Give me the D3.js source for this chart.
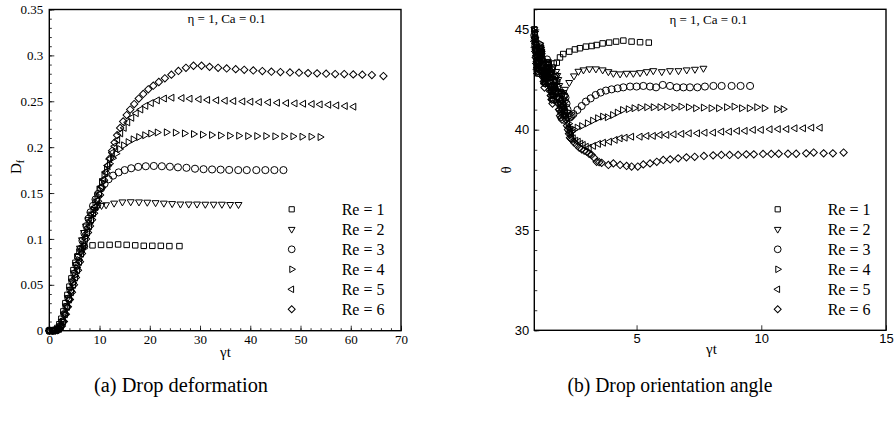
<!DOCTYPE html>
<html>
<head>
<meta charset="utf-8">
<script src="https://cdn.jsdelivr.net/npm/d3@7"></script>
<style>
  body { margin: 0; background: #fff; }
  svg { display: block; }
</style>
</head>
<body>
<svg id="fig" width="895" height="423"></svg>
<script>
// ---------- Drop deformation D_f versus strain γt ----------
const deformRe1 = [[0,0],[0.5,0],[1.1,0.0005],[1.6,0.003],[2.0,0.007],[2.4,0.013],[2.8,0.021],[3.2,0.03],[3.6,0.039],[4.0,0.048],[4.4,0.057],[4.8,0.066],[5.2,0.074],[5.6,0.081],[6.0,0.086],[6.5,0.09],[7.0,0.092],[8.6,0.093],[10.3,0.0935],[12.0,0.0935],[13.7,0.094],[15.4,0.0935],[17.1,0.093],[18.8,0.0925],[20.5,0.0925],[22.2,0.0925],[23.9,0.0922],[25.9,0.0922]];
const deformRe2 = [[0,0],[0.6,0],[1.2,0.0005],[1.7,0.002],[2.1,0.005],[2.5,0.01],[2.9,0.018],[3.3,0.027],[3.7,0.036],[4.1,0.045],[4.5,0.054],[4.9,0.063],[5.3,0.072],[5.7,0.081],[6.1,0.09],[6.5,0.099],[6.9,0.107],[7.3,0.114],[7.8,0.121],[8.3,0.127],[8.9,0.132],[9.6,0.135],[10.4,0.1365],[11.3,0.1372],[12.9,0.139],[14.55,0.1403],[16.2,0.1405],[17.85,0.1403],[19.5,0.14],[21.15,0.1395],[22.8,0.139],[24.45,0.1385],[26.1,0.138],[27.75,0.138],[29.4,0.138],[31.05,0.1378],[32.7,0.1378],[34.35,0.1378],[36.0,0.1375],[37.65,0.1375]];
const deformRe3 = [[0,0],[0.7,0],[1.3,0.0005],[1.8,0.002],[2.2,0.005],[2.6,0.01],[3.0,0.018],[3.4,0.026],[3.8,0.035],[4.2,0.044],[4.6,0.053],[5.0,0.062],[5.4,0.071],[5.8,0.08],[6.2,0.089],[6.6,0.098],[7.0,0.106],[7.4,0.114],[7.8,0.122],[8.2,0.129],[8.7,0.136],[9.2,0.143],[9.7,0.149],[10.3,0.155],[11.0,0.16],[11.8,0.165],[12.7,0.169],[13.8,0.1725],[15.0,0.175],[16.3,0.177],[17.7,0.1785],[19.2,0.1792],[20.8,0.1795],[22.4,0.1792],[24.0,0.1787],[25.6,0.178],[27.3,0.1775],[29.0,0.1765],[30.7,0.176],[32.4,0.1757],[34.1,0.1755],[35.8,0.1752],[37.6,0.175],[39.3,0.175],[41.2,0.175],[43.0,0.175],[44.8,0.175],[46.6,0.175]];
const deformRe4 = [[0,0],[0.7,0],[1.4,0.0005],[1.9,0.002],[2.3,0.005],[2.7,0.01],[3.1,0.018],[3.5,0.026],[3.9,0.034],[4.3,0.043],[4.7,0.052],[5.1,0.06],[5.5,0.069],[5.9,0.077],[6.3,0.086],[6.7,0.094],[7.1,0.102],[7.5,0.11],[7.9,0.117],[8.3,0.125],[8.7,0.132],[9.1,0.14],[9.5,0.147],[9.9,0.154],[10.4,0.162],[10.9,0.169],[11.4,0.176],[12.0,0.182],[12.6,0.188],[13.3,0.193],[14.0,0.198],[14.8,0.202],[15.7,0.2055],[16.7,0.2085],[17.8,0.211],[19.0,0.213],[20.2,0.2148],[21.5,0.216],[23.3,0.2162],[25.1,0.2158],[26.9,0.215],[28.7,0.2143],[30.5,0.2136],[32.3,0.2132],[34.1,0.2128],[35.9,0.2125],[37.7,0.2125],[39.5,0.2121],[41.3,0.2121],[43.1,0.2121],[44.9,0.2118],[46.7,0.2118],[48.5,0.2118],[50.3,0.2114],[52.1,0.2114],[53.9,0.211]];
const deformRe5 = [[0,0],[0.8,0],[1.5,0.0005],[2.0,0.002],[2.4,0.005],[2.8,0.01],[3.2,0.018],[3.6,0.026],[4.0,0.034],[4.4,0.042],[4.8,0.05],[5.2,0.058],[5.6,0.066],[6.0,0.075],[6.4,0.084],[6.8,0.092],[7.2,0.1],[7.6,0.107],[8.0,0.114],[8.4,0.121],[8.8,0.128],[9.2,0.135],[9.6,0.142],[10.0,0.149],[10.4,0.157],[10.8,0.165],[11.2,0.173],[11.6,0.18],[12.0,0.187],[12.5,0.194],[13.0,0.201],[13.6,0.208],[14.2,0.215],[14.9,0.221],[15.6,0.227],[16.4,0.232],[17.3,0.237],[18.2,0.241],[19.2,0.245],[20.3,0.248],[21.5,0.251],[22.9,0.253],[24.4,0.2539],[26.4,0.2535],[28.0,0.2528],[29.8,0.2522],[31.5,0.2515],[33.3,0.2511],[35.0,0.2506],[36.7,0.2502],[38.5,0.2498],[40.1,0.2495],[41.8,0.2491],[43.6,0.2488],[45.4,0.2484],[47.2,0.248],[48.9,0.2477],[50.6,0.2473],[52.3,0.247],[53.9,0.2466],[55.6,0.2462],[57.2,0.2455],[58.9,0.2448],[60.6,0.2441]];
const deformRe6 = [[0,0],[0.9,0],[1.6,0.0005],[2.1,0.002],[2.5,0.005],[2.9,0.01],[3.3,0.018],[3.7,0.026],[4.1,0.034],[4.5,0.042],[4.9,0.05],[5.3,0.058],[5.7,0.066],[6.1,0.075],[6.5,0.084],[6.9,0.092],[7.3,0.1],[7.7,0.107],[8.1,0.114],[8.5,0.121],[8.9,0.128],[9.3,0.135],[9.7,0.141],[10.1,0.148],[10.5,0.156],[10.9,0.164],[11.3,0.172],[11.7,0.18],[12.1,0.188],[12.5,0.196],[13.0,0.205],[13.5,0.213],[14.1,0.221],[14.7,0.228],[15.4,0.235],[16.1,0.241],[16.9,0.247],[17.8,0.253],[18.7,0.258],[19.7,0.263],[20.7,0.267],[21.8,0.271],[23.0,0.275],[24.3,0.279],[25.7,0.283],[27.2,0.2865],[28.7,0.2887],[30.3,0.2887],[31.9,0.2875],[33.6,0.2865],[35.3,0.2858],[37.1,0.285],[38.8,0.2843],[40.6,0.2836],[42.4,0.2829],[44.2,0.2822],[46.0,0.2818],[47.9,0.2814],[49.7,0.2811],[51.5,0.2807],[53.3,0.2804],[55.1,0.28],[56.9,0.2797],[58.7,0.2797],[60.5,0.2793],[62.3,0.279],[64.2,0.2786],[66.5,0.2775]];

// ---------- Drop orientation angle θ versus strain γt ----------
const angleRe1 = [[0.9,45.0],[0.92,44.8],[0.94,44.5],[0.96,44.2],[0.98,43.9],[1.0,43.6],[1.02,43.3],[1.04,43.1],[1.06,42.8],[1.08,42.9],[1.1,43.1],[1.12,43.4],[1.14,43.7],[1.16,44.0],[1.18,43.9],[1.2,43.8],[1.22,43.5],[1.25,43.2],[1.28,42.9],[1.3,42.6],[1.33,42.3],[1.35,42.4],[1.38,42.6],[1.4,42.9],[1.43,43.1],[1.45,43.3],[1.48,43.2],[1.5,43.0],[1.53,42.9],[1.55,42.8],[1.58,42.8],[1.6,42.98],[1.64,43.1],[1.68,43.3],[1.8,43.34],[1.93,43.6],[2.06,43.77],[2.3,43.89],[2.53,44.0],[2.73,44.06],[2.97,44.14],[3.2,44.17],[3.4,44.22],[3.64,44.3],[3.9,44.34],[4.18,44.39],[4.47,44.44],[4.8,44.39],[5.14,44.36],[5.49,44.34]];
const angleRe2 = [[0.9,45.0],[0.92,44.8],[0.94,44.5],[0.96,44.3],[0.98,44.0],[1.0,43.7],[1.02,43.4],[1.04,43.2],[1.06,43.0],[1.08,43.2],[1.1,43.5],[1.13,43.8],[1.15,44.1],[1.18,43.9],[1.2,43.7],[1.23,43.3],[1.26,43.0],[1.29,42.7],[1.32,42.5],[1.35,42.6],[1.38,42.8],[1.41,43.1],[1.44,43.4],[1.47,43.3],[1.5,43.1],[1.54,42.8],[1.57,42.5],[1.6,42.2],[1.64,42.0],[1.68,42.2],[1.71,42.4],[1.75,42.7],[1.78,42.9],[1.82,42.7],[1.86,42.5],[1.9,42.2],[1.94,41.9],[1.98,41.8],[2.02,41.7],[2.07,41.85],[2.13,42.01],[2.3,42.35],[2.49,42.68],[2.67,42.91],[2.87,42.98],[3.11,43.03],[3.37,43.03],[3.64,42.98],[3.87,42.89],[4.07,42.81],[4.34,42.78],[4.6,42.81],[4.87,42.81],[5.14,42.84],[5.41,42.89],[5.67,42.94],[6.01,42.89],[6.34,42.94],[6.68,42.94],[7.01,42.98],[7.34,43.01],[7.68,43.06]];
const angleRe3 = [[0.9,44.7],[0.92,44.5],[0.94,44.2],[0.96,43.9],[0.98,43.6],[1.0,43.3],[1.02,43.1],[1.05,43.3],[1.07,43.6],[1.1,43.9],[1.12,44.2],[1.15,44.1],[1.17,43.9],[1.2,43.5],[1.23,43.2],[1.26,42.9],[1.29,42.6],[1.32,42.7],[1.35,42.9],[1.38,43.2],[1.41,43.5],[1.44,43.3],[1.47,43.0],[1.5,42.6],[1.54,42.3],[1.57,42.1],[1.61,41.9],[1.64,42.1],[1.68,42.4],[1.71,42.6],[1.75,42.7],[1.79,42.4],[1.83,42.1],[1.87,41.8],[1.91,41.5],[1.95,41.4],[1.99,41.3],[2.03,41.5],[2.07,41.7],[2.11,41.7],[2.15,41.6],[2.19,41.3],[2.23,41.0],[2.28,40.8],[2.32,40.6],[2.36,40.65],[2.4,40.7],[2.47,40.78],[2.63,40.98],[2.8,41.18],[2.97,41.4],[3.16,41.56],[3.36,41.73],[3.56,41.85],[3.77,41.95],[4.0,42.01],[4.24,42.06],[4.47,42.11],[4.74,42.15],[5.0,42.15],[5.27,42.18],[5.54,42.15],[5.78,42.11],[6.05,42.23],[6.34,42.18],[6.61,42.11],[6.88,42.11],[7.14,42.11],[7.44,42.11],[7.74,42.15],[8.08,42.18],[8.41,42.18],[8.81,42.18],[9.17,42.18],[9.55,42.18]];
const angleRe4 = [[0.91,44.9],[0.93,44.6],[0.95,44.3],[0.97,44.0],[0.99,43.7],[1.01,43.4],[1.03,43.2],[1.05,43.4],[1.08,43.7],[1.1,44.0],[1.13,44.3],[1.15,44.1],[1.18,43.9],[1.21,43.5],[1.24,43.1],[1.27,42.8],[1.3,42.5],[1.33,42.6],[1.36,42.8],[1.39,43.0],[1.42,43.3],[1.45,43.1],[1.48,42.8],[1.51,42.4],[1.55,42.1],[1.58,41.9],[1.62,41.7],[1.65,41.9],[1.69,42.2],[1.72,42.4],[1.76,42.5],[1.8,42.2],[1.84,41.9],[1.88,41.6],[1.92,41.3],[1.96,41.2],[2.0,41.1],[2.04,41.3],[2.08,41.5],[2.12,41.4],[2.16,41.2],[2.2,40.9],[2.24,40.6],[2.28,40.3],[2.32,40.1],[2.36,40.0],[2.4,39.9],[2.5,40.0],[2.62,40.1],[2.8,40.18],[3.03,40.32],[3.24,40.45],[3.44,40.57],[3.64,40.65],[3.83,40.62],[4.04,40.73],[4.23,40.85],[4.44,40.98],[4.67,41.02],[4.9,41.07],[5.14,41.1],[5.41,41.12],[5.67,41.12],[5.94,41.12],[6.21,41.15],[6.5,41.1],[6.78,41.15],[7.08,41.12],[7.37,41.07],[7.68,41.1],[7.99,41.07],[8.29,41.07],[8.61,41.12],[8.91,41.15],[9.21,41.07],[9.52,41.07],[9.82,41.12],[10.12,41.07],[10.62,41.02],[10.88,41.02]];
const angleRe5 = [[0.9,44.4],[0.92,44.1],[0.94,43.9],[0.96,43.6],[0.98,43.3],[1.0,43.0],[1.02,42.8],[1.05,43.0],[1.07,43.3],[1.1,43.6],[1.12,43.9],[1.15,43.8],[1.17,43.6],[1.2,43.2],[1.23,42.9],[1.26,42.6],[1.29,42.3],[1.32,42.4],[1.35,42.6],[1.38,42.9],[1.41,43.1],[1.44,42.9],[1.47,42.6],[1.5,42.2],[1.54,41.9],[1.57,41.7],[1.61,41.5],[1.64,41.7],[1.68,41.9],[1.71,42.1],[1.75,42.2],[1.79,41.9],[1.83,41.6],[1.87,41.3],[1.91,41.0],[1.95,40.9],[1.99,40.8],[2.03,41.0],[2.07,41.2],[2.11,41.1],[2.15,40.9],[2.19,40.6],[2.23,40.3],[2.27,40.1],[2.31,39.9],[2.35,39.8],[2.39,39.7],[2.46,39.57],[2.56,39.45],[2.66,39.4],[2.76,39.3],[2.86,39.24],[2.98,39.15],[3.1,39.1],[3.27,39.19],[3.47,39.29],[3.67,39.35],[3.91,39.4],[4.14,39.49],[4.34,39.57],[4.54,39.6],[4.8,39.65],[5.14,39.65],[5.41,39.69],[5.67,39.69],[5.94,39.74],[6.21,39.74],[6.5,39.77],[6.81,39.79],[7.11,39.82],[7.44,39.82],[7.74,39.85],[8.08,39.85],[8.41,39.9],[8.72,39.9],[9.04,39.94],[9.35,39.94],[9.68,39.99],[10.0,39.99],[10.35,40.02],[10.68,40.03],[11.02,40.03],[11.35,40.07],[11.69,40.07],[12.02,40.1],[12.36,40.1]];
const angleRe6 = [[0.92,44.6],[0.94,44.3],[0.96,44.0],[0.98,43.7],[1.0,43.4],[1.02,43.1],[1.04,42.9],[1.06,43.1],[1.09,43.4],[1.11,43.7],[1.14,44.0],[1.16,43.8],[1.19,43.5],[1.22,43.1],[1.25,42.7],[1.28,42.4],[1.31,42.1],[1.34,42.3],[1.37,42.5],[1.4,42.8],[1.43,43.0],[1.46,42.7],[1.49,42.4],[1.52,42.0],[1.56,41.7],[1.59,41.5],[1.63,41.3],[1.66,41.5],[1.7,41.7],[1.73,41.8],[1.77,41.9],[1.81,41.6],[1.85,41.3],[1.89,41.0],[1.93,40.7],[1.97,40.6],[2.01,40.5],[2.05,40.7],[2.09,40.9],[2.13,40.7],[2.17,40.5],[2.21,40.2],[2.25,40.0],[2.29,39.8],[2.33,39.6],[2.37,39.55],[2.41,39.5],[2.5,39.35],[2.6,39.24],[2.7,39.1],[2.8,39.02],[2.9,38.95],[3.0,38.9],[3.1,38.8],[3.2,38.74],[3.3,38.6],[3.4,38.4],[3.5,38.38],[3.6,38.35],[3.87,38.24],[4.07,38.32],[4.34,38.24],[4.6,38.19],[4.8,38.16],[5.05,38.16],[5.27,38.27],[5.54,38.32],[5.81,38.4],[6.07,38.49],[6.35,38.52],[6.67,38.57],[7.0,38.62],[7.33,38.65],[7.7,38.69],[8.07,38.72],[8.4,38.74],[8.73,38.74],[9.07,38.74],[9.4,38.77],[9.7,38.77],[10.07,38.79],[10.4,38.79],[10.7,38.8],[11.07,38.8],[11.4,38.8],[11.8,38.82],[12.1,38.86],[12.5,38.82],[12.87,38.82],[13.3,38.86]];

const legendLabels = ["Re = 1", "Re = 2", "Re = 3", "Re = 4", "Re = 5", "Re = 6"];
const deformTicks = [0, 0.05, 0.1, 0.15, 0.2, 0.25, 0.3, 0.35];
const deformTickLabels = ["0", "0.05", "0.1", "0.15", "0.2", "0.25", "0.3", "0.35"];
const strainTicksA = [0, 10, 20, 30, 40, 50, 60, 70];
const angleTicks = [30, 35, 40, 45];
const strainTicksB = [5, 10, 15];
const panelTitle = "η = 1, Ca = 0.1";

const deformSeries = [deformRe1, deformRe2, deformRe3, deformRe4, deformRe5, deformRe6];
const angleSeries = [angleRe1, angleRe2, angleRe3, angleRe4, angleRe5, angleRe6];

// Marker glyphs: square, down/right/left triangles, circle, diamond
const glyphs = [
  { type: d3.symbolSquare,   size: 30, rot: 0 },
  { type: d3.symbolTriangle, size: 21, rot: 180 },
  { type: d3.symbolCircle,   size: 40, rot: 0 },
  { type: d3.symbolTriangle, size: 21, rot: 90 },
  { type: d3.symbolTriangle, size: 21, rot: -90 },
  { type: d3.symbolSquare,   size: 27, rot: 45 }
];

const svg = d3.select("#fig");
const SERIF = "'Liberation Serif', 'Times New Roman', serif";
const SANS = "'Liberation Sans', Arial, sans-serif";

function drawMarkers(g, data, glyph, x, y) {
  const path = d3.symbol().type(glyph.type).size(glyph.size)();
  g.selectAll(null).data(data).enter().append("path")
    .attr("d", path)
    .attr("transform", d => `translate(${x(d[0])},${y(d[1])}) rotate(${glyph.rot})`)
    .attr("fill", "none")
    .attr("stroke", "#000")
    .attr("stroke-width", 1);
}

function drawLegend(g, mx, tx, y0, gap) {
  legendLabels.forEach((lab, i) => {
    const gl = glyphs[i];
    const yy = y0 + i * gap;
    g.append("path")
      .attr("d", d3.symbol().type(gl.type).size(gl.size * 0.9)())
      .attr("transform", `translate(${mx},${yy}) rotate(${gl.rot})`)
      .attr("fill", "none").attr("stroke", "#000").attr("stroke-width", 1);
    g.append("text").attr("x", tx).attr("y", yy + 5.5)
      .attr("font-family", SERIF).attr("font-size", 16).text(lab);
  });
}

function styleAxis(sel, family) {
  sel.select(".domain").remove();
  sel.selectAll(".tick line").attr("stroke", "#000").attr("stroke-width", 0.8);
  sel.selectAll(".tick text").attr("font-family", family).attr("font-size", 13).attr("fill", "#000");
}

// ---------------- Panel (a) ----------------
{
  const L = 49.3, R = 401, T = 9.5, B = 330.7;
  const x = d3.scaleLinear().domain([0, 70]).range([L, R]);
  const y = d3.scaleLinear().domain([0, 0.35]).range([B, T]);
  const g = svg.append("g");

  // minor ticks
  g.append("g").attr("transform", `translate(0,${B})`)
    .call(d3.axisBottom(x).tickValues(d3.range(0, 70.01, 2)).tickSize(-2.5).tickFormat(""))
    .call(s => styleAxis(s, SERIF));
  g.append("g").attr("transform", `translate(${L},0)`)
    .call(d3.axisLeft(y).tickValues(d3.range(0, 0.3501, 0.01)).tickSize(-2.5).tickFormat(""))
    .call(s => styleAxis(s, SERIF));
  // major ticks
  g.append("g").attr("transform", `translate(0,${B})`)
    .call(d3.axisBottom(x).tickValues(strainTicksA).tickSize(-5).tickPadding(4.5).tickFormat(d3.format("d")))
    .call(s => styleAxis(s, SERIF));
  g.append("g").attr("transform", `translate(${L},0)`)
    .call(d3.axisLeft(y).tickValues(deformTicks).tickSize(-5).tickPadding(6)
      .tickFormat((d, i) => deformTickLabels[i]))
    .call(s => styleAxis(s, SERIF));

  g.append("rect").attr("x", L).attr("y", T).attr("width", R - L).attr("height", B - T)
    .attr("fill", "none").attr("stroke", "#000").attr("stroke-width", 1.4);

  deformSeries.forEach((s, i) => drawMarkers(g, s, glyphs[i], x, y));
  drawLegend(g, 291.7, 341.7, 209.3, 20);

  g.append("text").attr("x", (L + R) / 2 + 1.5).attr("y", 22.5).attr("text-anchor", "middle")
    .attr("font-family", SERIF).attr("font-size", 13).text(panelTitle);
  g.append("text").attr("x", 225.5).attr("y", 357).attr("text-anchor", "middle")
    .attr("font-family", SERIF).attr("font-size", 15).text("γt");
  const yl = g.append("text").attr("transform", "translate(21,167) rotate(-90)")
    .attr("text-anchor", "middle").attr("font-family", SERIF).attr("font-size", 15);
  yl.append("tspan").text("D");
  yl.append("tspan").attr("font-size", 10).attr("dy", 3).text("f");

  g.append("text").attr("x", 181).attr("y", 392).attr("text-anchor", "middle")
    .attr("font-family", SERIF).attr("font-size", 20)
    .attr("textLength", 174).attr("lengthAdjust", "spacingAndGlyphs")
    .text("(a) Drop deformation");
}

// ---------------- Panel (b) ----------------
{
  const L = 534.3, R = 886, T = 9.3, B = 330.3;
  const x = d3.scaleLinear().domain([0.9, 15]).range([L, R]);
  const y = d3.scaleLinear().domain([30, 46]).range([B, T]);
  const g = svg.append("g");

  g.append("g").attr("transform", `translate(${L},0)`)
    .call(d3.axisLeft(y).tickValues(d3.range(30, 46.01, 1)).tickSize(-3).tickFormat(""))
    .call(s => styleAxis(s, SANS));
  g.append("g").attr("transform", `translate(0,${B})`)
    .call(d3.axisBottom(x).tickValues(strainTicksB).tickSize(-5).tickPadding(3).tickFormat(d3.format("d")))
    .call(s => styleAxis(s, SANS));
  g.append("g").attr("transform", `translate(${L},0)`)
    .call(d3.axisLeft(y).tickValues(angleTicks).tickSize(-5).tickPadding(5).tickFormat(d3.format("d")))
    .call(s => styleAxis(s, SANS));

  g.append("rect").attr("x", L).attr("y", T).attr("width", R - L).attr("height", B - T)
    .attr("fill", "none").attr("stroke", "#000").attr("stroke-width", 1.4);

  angleSeries.forEach((s, i) => drawMarkers(g, s, glyphs[i], x, y));
  drawLegend(g, 777.7, 827.7, 209.3, 20);

  g.append("text").attr("x", 708.5).attr("y", 24).attr("text-anchor", "middle")
    .attr("font-family", SERIF).attr("font-size", 13).text(panelTitle);
  g.append("text").attr("x", 711.5).attr("y", 354).attr("text-anchor", "middle")
    .attr("font-family", SERIF).attr("font-size", 15).text("γt");
  g.append("text").attr("transform", "translate(511,170) rotate(-90)")
    .attr("text-anchor", "middle").attr("font-family", SERIF).attr("font-size", 15).text("θ");

  g.append("text").attr("x", 670).attr("y", 392).attr("text-anchor", "middle")
    .attr("font-family", SERIF).attr("font-size", 20)
    .attr("textLength", 205).attr("lengthAdjust", "spacingAndGlyphs")
    .text("(b) Drop orientation angle");
}
</script>
</body>
</html>
